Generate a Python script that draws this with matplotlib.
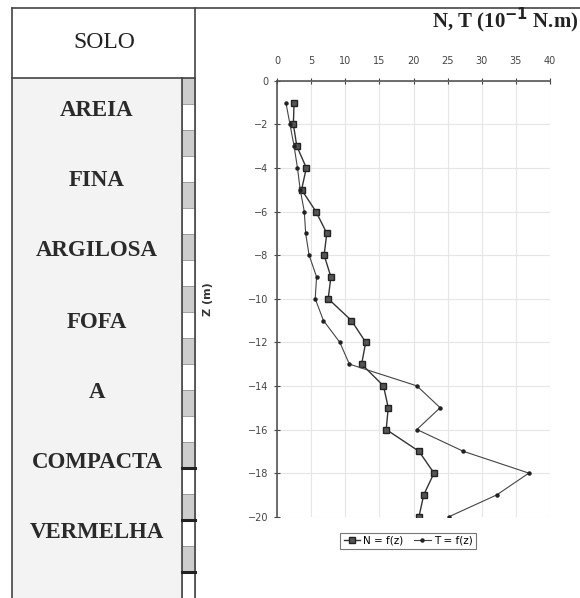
import numpy as np
import matplotlib.pyplot as plt
from matplotlib.patches import Rectangle

# depth (m) and measured values (10^-1 N.m)
z_N = [-1, -2, -3, -4, -5, -6, -7, -8, -9, -10, -11, -12, -13, -14, -15, -16, -17, -18, -19, -20]
N = [2.5, 2.4, 2.9, 4.3, 3.6, 5.7, 7.3, 6.9, 7.9, 7.5, 10.9, 13.0, 12.4, 15.6, 16.3, 16.0, 20.8, 23.0, 21.5, 20.8]
z_T = [-1, -2, -3, -4, -5, -6, -7, -8, -9, -10, -11, -12, -13, -14, -15, -16, -17, -18, -19, -20]
T = [1.3, 1.9, 2.5, 3.0, 3.4, 4.0, 4.2, 4.7, 5.8, 5.6, 6.8, 9.2, 10.6, 20.5, 23.9, 20.5, 27.3, 36.9, 32.2, 25.2]

soil_words = ["AREIA", "FINA", "ARGILOSA", "FOFA", "A", "COMPACTA", "VERMELHA"]
strip_fill = ["#cdcdcd", "white"] * 10
strip_dark = [15, 17, 19]   # segment edges drawn thick

W, H = 580, 598
fig = plt.figure(figsize=(W / 100, H / 100), dpi=100)
fig.patch.set_facecolor("white")

# left panel drawn in pixel coords
bg = fig.add_axes([0, 0, 1, 1])
bg.set_xlim(0, W)
bg.set_ylim(H, 0)
bg.axis("off")

lc = "#444444"
bg.add_patch(Rectangle((12, 78), 170, 520, facecolor="#f3f3f3", edgecolor="none"))
bg.plot([12, W], [8, 8], color=lc, lw=1.2)
bg.plot([12, 12], [8, H], color=lc, lw=1.2)
bg.plot([195, 195], [8, H], color=lc, lw=1.2)
bg.plot([12, 195], [78, 78], color=lc, lw=1.2)
bg.plot([182, 182], [78, H], color=lc, lw=1.2)
bg.text(104, 42, "SOLO", ha="center", va="center", fontsize=17,
        family="Liberation Serif", color="#222222")

seg_h = 26
for i, fc in enumerate(strip_fill):
    y0 = 78 + i * seg_h
    bg.add_patch(Rectangle((182, y0), 13, seg_h, facecolor=fc, edgecolor="#999999", lw=0.6))
for k in strip_dark:
    y0 = 78 + k * seg_h
    bg.plot([182, 195], [y0, y0], color="#222222", lw=2.2)

label_y = [110, 181, 250, 322, 393, 462, 533]
for word, y in zip(soil_words, label_y):
    bg.text(97, y, word, ha="center", va="center", fontsize=16.5, fontweight="bold",
            family="Liberation Serif", color="#2a2a2a")

bg.text(579, 20, "N, T (10$^{\\mathbf{-1}}$ N.m)", ha="right", va="center", fontsize=15,
        fontweight="bold", family="Liberation Serif", color="#222222")

# chart
ax = fig.add_axes([277 / W, 1 - 516.7 / H, (550 - 277) / W, (516.7 - 80.7) / H])
ax.set_facecolor("none")
ax.plot(N, z_N, color="#333333", lw=1, marker="s", ms=4.5, mfc="#555555", mec="#222222",
        label="N = f(z)")
ax.plot(T, z_T, color="#444444", lw=0.8, marker="o", ms=2.2, mfc="#222222", mec="#222222",
        label="T = f(z)")

ax.set_xlim(0, 40)
ax.set_ylim(-20, 0)
ax.set_xticks(np.arange(0, 41, 5))
ax.set_yticks(np.arange(-20, 1, 2))
ax.xaxis.tick_top()
ax.tick_params(axis="both", labelsize=7, colors="#444444", direction="inout", length=5, width=0.8)
ax.tick_params(axis="x", pad=8)
ax.grid(True, color="#e6e6e6", lw=0.8)
for s in ["right", "bottom"]:
    ax.spines[s].set_visible(False)
for s in ["left", "top"]:
    ax.spines[s].set_color("#555555")
    ax.spines[s].set_linewidth(1.2)
ax.set_ylabel("Z (m)", fontsize=8, fontweight="bold", labelpad=0, color="#333333")
ax.yaxis.set_label_coords(-0.235, 0.5)

leg = ax.legend(loc="upper center", bbox_to_anchor=(0.48, -0.025), ncol=2, fontsize=7.5,
                frameon=True, fancybox=False, handlelength=1.6, handletextpad=0.3,
                columnspacing=1.0, borderpad=0.3)
leg.get_frame().set_edgecolor("#555555")
leg.get_frame().set_linewidth(0.8)

fig.savefig("out.png", dpi=100)
